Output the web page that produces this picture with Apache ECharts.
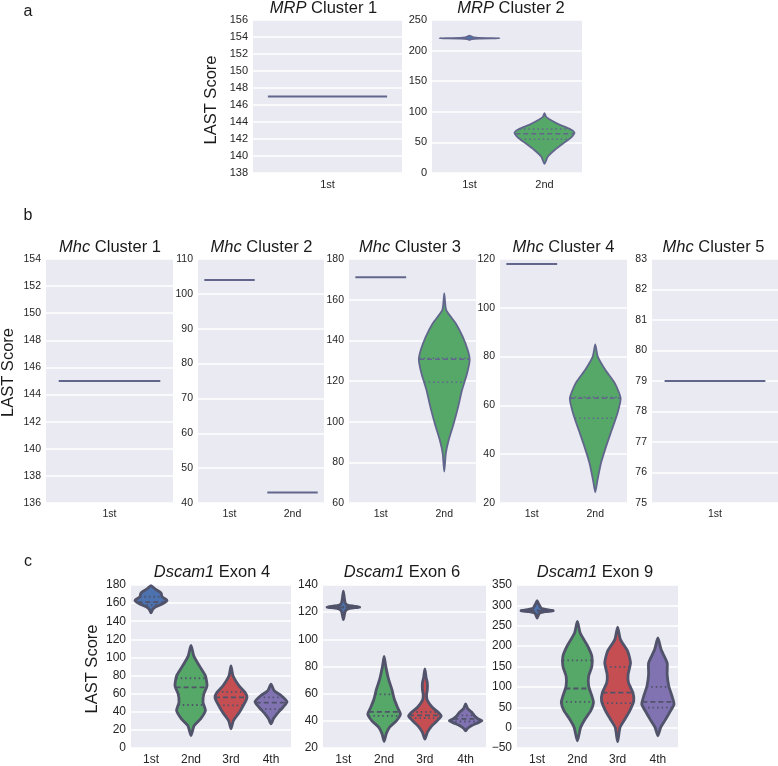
<!DOCTYPE html>
<html><head><meta charset="utf-8">
<script src="https://cdn.jsdelivr.net/npm/echarts/dist/echarts.min.js"></script>
<style>html,body{margin:0;padding:0;background:#fff}#c{width:778px;height:766px}</style>
</head><body><div id="c"></div>
<script>
// ================= DATA =================
// categories (x tick labels)
const mrp1Cats = ['1st'];
const mrp2Cats = ['1st', '2nd'];
const mhc1Cats = ['1st'];
const mhc2Cats = ['1st', '2nd'];
const mhc3Cats = ['1st', '2nd'];
const mhc4Cats = ['1st', '2nd'];
const mhc5Cats = ['1st'];
const dscamCats = ['1st', '2nd', '3rd', '4th'];

// y axis ranges [min, max, interval]
const mrp1Range = [138, 156, 2];
const mrp2Range = [0, 250, 50];
const mhc1Range = [136, 154, 2];
const mhc2Range = [40, 110, 10];
const mhc3Range = [60, 180, 20];
const mhc4Range = [20, 120, 20];
const mhc5Range = [75, 83, 1];
const ex4Range = [0, 180, 20];
const ex6Range = [20, 140, 20];
const ex9Range = [-50, 350, 50];

// single-observation groups: [category index, LAST score]
const mrp1Lines = [[0, 147]];
const mhc1Lines = [[0, 145]];
const mhc2Lines = [[0, 104], [1, 43]];
const mhc3Lines = [[0, 171]];
const mhc4Lines = [[0, 118]];
const mhc5Lines = [[0, 79]];

// violin density profiles: [LAST score, half width (fraction of category band)]
const mrp2Prof1st = [[224.5,0],[223,0.03],[221.5,0.06],[220.7,0.12],[220.2,0.4],[219.7,0.12],[218.8,0.03],[217.5,0]];
const mrp2Prof2nd = [[97.7,0],[92,0.02],[87.7,0.065],[79.5,0.19],[71.2,0.35],[65.7,0.4],[57.4,0.35],[49.2,0.26],[38,0.14],[27,0.045],[15,0]];
const mrp2Quart2nd = [55, 64, 72];

const mhc3Prof2nd = [[163.1,0],[155,0.03],[148.4,0.18],[141.8,0.29],[135.2,0.37],[130.3,0.4],[123.8,0.36],[115.6,0.28],[107.4,0.22],[99.2,0.15],[91,0.07],[84.4,0.025],[75.4,0]];
const mhc3Quart2nd = [119.4, 130.7, 131.2];
const mhc4Prof2nd = [[85,0],[80,0.04],[74.5,0.16],[69,0.31],[62.9,0.4],[56.8,0.35],[49.9,0.26],[43.1,0.17],[36.3,0.09],[29.4,0.035],[24.4,0]];
const mhc4Quart2nd = [54.7, 62.9, 63.3];

const ex4Prof1st = [[179.3,0],[175.6,0.1],[171.2,0.25],[166.8,0.28],[163.1,0.4],[159.5,0.3],[155.9,0.12],[152.9,0.04],[149.3,0]];
const ex4Quart1st = [158, 161, 167];
const ex4Prof2nd = [[113.4,0],[101.6,0.07],[90.7,0.21],[79.7,0.36],[68.7,0.4],[59.6,0.32],[50.5,0.3],[41.3,0.36],[32.2,0.24],[24.8,0.08],[13.8,0]];
const ex4Quart2nd = [47.5, 67, 77];
const ex4Prof3rd = [[90.7,0],[79.7,0.05],[68.7,0.2],[61.5,0.35],[56,0.4],[48.6,0.33],[39.5,0.21],[30.3,0.06],[21.2,0]];
const ex4Quart3rd = [47, 56, 62];
const ex4Prof4th = [[70.6,0],[63.2,0.08],[57.7,0.26],[51.2,0.4],[45,0.3],[37.7,0.15],[32.2,0.06],[26.7,0]];
const ex4Quart4th = [43, 50, 56];

const ex6Prof1st = [[135.5,0],[130,0.025],[126.5,0.05],[125,0.12],[123.8,0.4],[122.8,0.15],[121,0.05],[118,0.025],[114.5,0]];
const ex6Quart1st = [123.2, 123.6, 124];
const ex6Prof2nd = [[87.5,0],[80.2,0.04],[70.5,0.11],[63.2,0.19],[55.9,0.25],[49.8,0.33],[44.9,0.4],[40,0.3],[35.2,0.13],[30.3,0.05],[24.9,0]];
const ex6Quart2nd = [43.7, 46.6, 59.5];
const ex6Prof3rd = [[78.3,0],[72,0.03],[68,0.06],[63,0.06],[59,0.04],[55,0.06],[50,0.18],[46,0.34],[43.6,0.4],[40,0.3],[36.3,0.17],[31.5,0.06],[26.6,0]];
const ex6Quart3rd = [42, 44, 46.5];
const ex6Prof4th = [[52.5,0],[49,0.05],[46,0.16],[43.5,0.22],[41.5,0.3],[40,0.4],[38.5,0.3],[36.5,0.15],[34.5,0.05],[32.7,0]];
const ex6Quart4th = [39.5, 41.5, 44];

const ex9Prof1st = [[311.7,0],[305,0.03],[298,0.07],[293,0.1],[289.5,0.25],[287,0.4],[284.5,0.2],[281,0.06],[276,0.03],[268.8,0]];
const ex9Quart1st = [286, 287, 288];
const ex9Prof2nd = [[260.5,0],[232.2,0.07],[199.5,0.26],[175.1,0.36],[150.7,0.36],[126.4,0.28],[102,0.28],[77.6,0.36],[61.5,0.4],[41.1,0.33],[20.7,0.19],[0.5,0.08],[-32.2,0]];
const ex9Quart2nd = [63, 96, 165];
const ex9Prof3rd = [[246.8,0],[215.9,0.07],[187.4,0.25],[159,0.32],[130.5,0.26],[110.2,0.27],[85.9,0.38],[65.5,0.4],[41.1,0.3],[20.7,0.18],[0.5,0.06],[-34.6,0]];
const ex9Quart3rd = [60, 86, 149];
const ex9Prof4th = [[220,0],[191.5,0.08],[159,0.23],[130.5,0.23],[102,0.27],[77.6,0.35],[57.3,0.4],[37,0.29],[16.6,0.17],[0.5,0.07],[-19.9,0]];
const ex9Quart4th = [49, 63, 100];

// ================= STYLE / LAYOUT =================
const FONT = "'Liberation Sans', Arial, Helvetica, sans-serif";
const BLUE = '#4C72B0', GREEN = '#55A868', RED = '#C44E52', PURPLE = '#8172B2';
const OUT_AB = '#62668c', OUT_C = '#50536a';

const panels = [
  {box:[253,20,149,153], cats:mrp1Cats, range:mrp1Range, fs:11, lines:mrp1Lines, violins:[], title:['MRP',' Cluster 1'], tx:323.5, ty:8.5},
  {box:[432,20,150,153], cats:mrp2Cats, range:mrp2Range, fs:11, lines:[], violins:[
      {cat:0, profile:mrp2Prof1st, quart:[], color:BLUE},
      {cat:1, profile:mrp2Prof2nd, quart:mrp2Quart2nd, color:GREEN}], title:['MRP',' Cluster 2'], tx:511, ty:8.5},
  {box:[46,259,127,244], cats:mhc1Cats, range:mhc1Range, fs:10.5, lines:mhc1Lines, violins:[], title:['Mhc',' Cluster 1'], tx:110, ty:247},
  {box:[198,259,126,244], cats:mhc2Cats, range:mhc2Range, fs:10.5, lines:mhc2Lines, violins:[], title:['Mhc',' Cluster 2'], tx:261.5, ty:247},
  {box:[349,259,127,244], cats:mhc3Cats, range:mhc3Range, fs:10.5, lines:mhc3Lines, violins:[
      {cat:1, profile:mhc3Prof2nd, quart:mhc3Quart2nd, color:GREEN}], title:['Mhc',' Cluster 3'], tx:410, ty:247},
  {box:[500,259,127,244], cats:mhc4Cats, range:mhc4Range, fs:10.5, lines:mhc4Lines, violins:[
      {cat:1, profile:mhc4Prof2nd, quart:mhc4Quart2nd, color:GREEN}], title:['Mhc',' Cluster 4'], tx:563.5, ty:247},
  {box:[652,259,126,244], cats:mhc5Cats, range:mhc5Range, fs:10.5, lines:mhc5Lines, violins:[], title:['Mhc',' Cluster 5'], tx:713.5, ty:247},
  {box:[131,585,160,164], cats:dscamCats, range:ex4Range, fs:12, lines:[], violins:[
      {cat:0, profile:ex4Prof1st, quart:ex4Quart1st, color:BLUE},
      {cat:1, profile:ex4Prof2nd, quart:ex4Quart2nd, color:GREEN},
      {cat:2, profile:ex4Prof3rd, quart:ex4Quart3rd, color:RED},
      {cat:3, profile:ex4Prof4th, quart:ex4Quart4th, color:PURPLE}], title:['Dscam1',' Exon 4'], tx:212, ty:572, big:true},
  {box:[323,585,163,164], cats:dscamCats, range:ex6Range, fs:12, lines:[], violins:[
      {cat:0, profile:ex6Prof1st, quart:ex6Quart1st, color:BLUE},
      {cat:1, profile:ex6Prof2nd, quart:ex6Quart2nd, color:GREEN},
      {cat:2, profile:ex6Prof3rd, quart:ex6Quart3rd, color:RED},
      {cat:3, profile:ex6Prof4th, quart:ex6Quart4th, color:PURPLE}], title:['Dscam1',' Exon 6'], tx:402, ty:572, big:true},
  {box:[517,585,161,164], cats:dscamCats, range:ex9Range, fs:12, lines:[], violins:[
      {cat:0, profile:ex9Prof1st, quart:ex9Quart1st, color:BLUE},
      {cat:1, profile:ex9Prof2nd, quart:ex9Quart2nd, color:GREEN},
      {cat:2, profile:ex9Prof3rd, quart:ex9Quart3rd, color:RED},
      {cat:3, profile:ex9Prof4th, quart:ex9Quart4th, color:PURPLE}], title:['Dscam1',' Exon 9'], tx:595, ty:572, big:true}
];

function interpWidth(profile, v) {
  for (let i = 0; i < profile.length - 1; i++) {
    const a = profile[i], b = profile[i + 1];
    if ((v <= a[0] && v >= b[0]) || (v >= a[0] && v <= b[0])) {
      const t = a[0] === b[0] ? 0 : (v - a[0]) / (b[0] - a[0]);
      return a[1] + t * (b[1] - a[1]);
    }
  }
  return 0;
}

const grid = [], xAxis = [], yAxis = [], series = [], graphic = [];

panels.forEach((p, i) => {
  const big = !!p.big;
  const outline = big ? OUT_C : OUT_AB;
  const lw = big ? 2.8 : 1.8;
  grid.push({left:p.box[0], top:p.box[1], width:p.box[2], height:p.box[3],
    show:true, backgroundColor:'#EAEAF2', borderWidth:0, containLabel:false});
  xAxis.push({type:'category', gridIndex:i, data:p.cats,
    axisLine:{show:false}, axisTick:{show:false}, splitLine:{show:false},
    axisLabel:{fontFamily:FONT, fontSize:p.fs, color:'#262626', margin:6}});
  yAxis.push({type:'value', gridIndex:i, min:p.range[0], max:p.range[1], interval:p.range[2],
    axisLine:{show:false}, axisTick:{show:false},
    splitLine:{show:true, lineStyle:{color:'#ffffff', width:1.5}},
    axisLabel:{fontFamily:FONT, fontSize:p.fs, color:'#262626', margin:5,
      formatter: v => v < 0 ? '\u2212' + Math.abs(v) : String(v)}});

  if (p.violins.length) {
    const vs = p.violins;
    series.push({
      type:'custom', xAxisIndex:i, yAxisIndex:i, silent:true, z:3,
      data: vs.map(v => [v.cat, v.quart.length ? v.quart[1] : v.profile[0][0]]),
      renderItem: (params, api) => {
        const v = vs[params.dataIndex];
        const band = api.size([1, 0])[0];
        const right = [], left = [];
        v.profile.forEach(([val, w]) => {
          const c = api.coord([v.cat, val]);
          right.push([c[0] + w * band, c[1]]);
          if (w > 0) left.push([c[0] - w * band, c[1]]);
        });
        const pts = right.concat(left.reverse());
        const children = [{type:'polygon', shape:{points:pts, smooth:0.2},
          style:{fill:v.color, stroke:outline, lineWidth:lw, lineJoin:'round'}}];
        v.quart.forEach((q, k) => {
          const w = interpWidth(v.profile, q) * band;
          const c = api.coord([v.cat, q]);
          children.push({type:'line', shape:{x1:c[0] - w, y1:c[1], x2:c[0] + w, y2:c[1]},
            style:{stroke:outline, lineWidth: big ? 1.8 : 1.5, lineDash: k === 1 ? [5, 3] : [1.5, 3]}});
        });
        return {type:'group', children};
      }
    });
  }
  if (p.lines.length) {
    series.push({
      type:'custom', xAxisIndex:i, yAxisIndex:i, silent:true, z:3,
      data: p.lines,
      renderItem: (params, api) => {
        const band = api.size([1, 0])[0];
        const c = api.coord([api.value(0), api.value(1)]);
        const w = 0.4 * band;
        return {type:'line', shape:{x1:c[0] - w, y1:c[1], x2:c[0] + w, y2:c[1]},
          style:{stroke:OUT_AB, lineWidth:2}};
      }
    });
  }
  const tfs = 16.5;
  graphic.push({type:'text', x:p.tx, y:p.ty, silent:true,
    style:{text:'{i|' + p.title[0] + '}' + p.title[1], x:0, y:0,
      font: tfs + 'px ' + FONT, fill:'#1a1a1a', align:'center', verticalAlign:'middle',
      rich:{i:{fontStyle:'italic', fontSize:tfs, fontFamily:FONT, fill:'#1a1a1a'}}}});
});

// panel letters and y axis names
[['a', 28, 12], ['b', 28, 216], ['c', 28, 562]].forEach(([t, x, y]) => {
  graphic.push({type:'text', x:x, y:y, silent:true,
    style:{text:t, font:'16px ' + FONT, fill:'#1a1a1a', align:'center', verticalAlign:'middle'}});
});
[[211.5, 100], [8, 372.5], [92, 669]].forEach(([x, y]) => {
  graphic.push({type:'text', x:x, y:y, rotation:Math.PI / 2, silent:true,
    style:{text:'LAST Score', font:'16.5px ' + FONT, fill:'#1a1a1a', align:'center', verticalAlign:'middle'}});
});

const chart = echarts.init(document.getElementById('c'), null, {renderer:'canvas'});
chart.setOption({animation:false, backgroundColor:'#ffffff', grid, xAxis, yAxis, series, graphic});
</script>
</body></html>
